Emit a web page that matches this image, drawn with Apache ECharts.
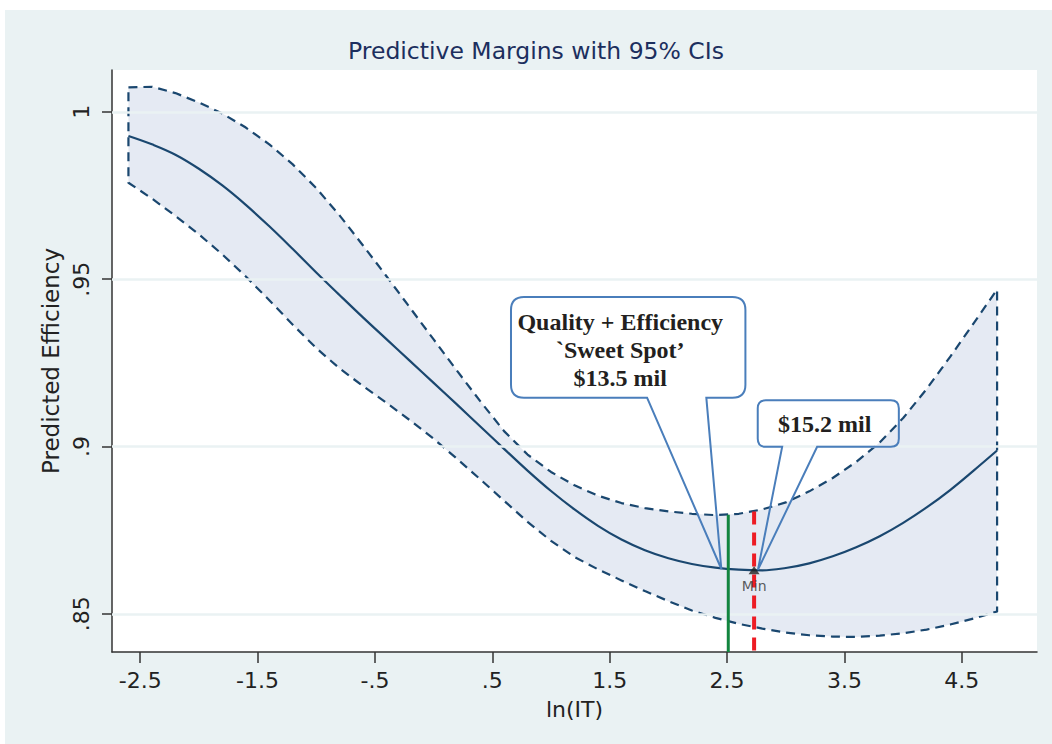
<!DOCTYPE html>
<html><head><meta charset="utf-8">
<script src="https://cdn.jsdelivr.net/npm/echarts@6/dist/echarts.min.js"></script>
<style>html,body{margin:0;padding:0;background:#fff}#chart{width:1052px;height:744px}</style>
</head><body><div id="chart"></div>
<script>
// ---- data ----
const xGrid   = [-2.6,-2.4,-2.2,-2.0,-1.8,-1.6,-1.4,-1.2,-1.0,-0.8,-0.6,-0.4,-0.2,0.0,0.2,0.4,0.6,0.8,1.0,1.2,1.4,1.6,1.8,2.0,2.2,2.4,2.6,2.8,3.0,3.2,3.4,3.6,3.8,4.0,4.2,4.4,4.6,4.8];
const margin  = [0.9928,0.9903,0.9872,0.9830,0.9780,0.9722,0.9658,0.9590,0.9520,0.9452,0.9385,0.9320,0.9255,0.9190,0.9125,0.9059,0.8993,0.8928,0.8867,0.8812,0.8763,0.8722,0.8690,0.8666,0.8649,0.8638,0.8632,0.8630,0.8637,0.8651,0.8672,0.8699,0.8732,0.8772,0.8818,0.8870,0.8928,0.8988];
const ciUpper = [1.0073,1.0075,1.0056,1.0028,0.9995,0.9953,0.9903,0.9843,0.9772,0.9690,0.9600,0.9508,0.9414,0.9320,0.9226,0.9134,0.9046,0.8976,0.8924,0.8884,0.8853,0.8831,0.8816,0.8806,0.8799,0.8795,0.8799,0.8812,0.8833,0.8866,0.8906,0.8954,0.9012,0.9085,0.9172,0.9268,0.9368,0.9469];
const ciLower = [0.9788,0.9741,0.9689,0.9634,0.9574,0.9508,0.9437,0.9364,0.9294,0.9233,0.9180,0.9130,0.9078,0.9023,0.8963,0.8901,0.8838,0.8775,0.8718,0.8670,0.8633,0.8600,0.8568,0.8538,0.8510,0.8488,0.8470,0.8456,0.8444,0.8436,0.8432,0.8431,0.8435,0.8442,0.8453,0.8468,0.8486,0.8507];
const xTickValues = [-2.5,-1.5,-0.5,0.5,1.5,2.5,3.5,4.5];
const xTickLabels = ['-2.5','-1.5','-.5','.5','1.5','2.5','3.5','4.5'];
const yTickValues = [0.85,0.9,0.95,1];
const yTickLabels = ['.85','.9','.95','1'];
const sweetSpotX = 2.51, sweetSpotTop = 0.8796;
const minX = 2.73, minTop = 0.8806;
const minPoint = [2.73, 0.8630];
const calloutTexts = [['Quality + Efficiency','`Sweet Spot\u2019','$13.5 mil'], ['$15.2 mil']];

// ---- layout of annotations (data coordinates) ----
const X_MIN = -2.74, X_MAX = 5.14, Y_MIN = 0.8386, Y_MAX = 1.0125;
const calloutLayout = [
  {box:[0.659, 2.656, 0.9447, 0.9146], base:[1.818, 2.323], tip:[2.451, 0.8634], text:[1.590, 0.9288], r:13},
  {box:[2.761, 3.963, 0.9138, 0.8999], base:[2.969, 3.267], tip:[2.763, 0.8632], text:[3.331, 0.9067], r:8}
];

const pairs = (xs, ys) => xs.map((x, i) => [x, ys[i]]);
const navy = '#1A476F';

function renderBand(params, api) {
  const pts = [];
  for (let i = 0; i < xGrid.length; i++) pts.push(api.coord([xGrid[i], ciUpper[i]]));
  for (let i = xGrid.length - 1; i >= 0; i--) pts.push(api.coord([xGrid[i], ciLower[i]]));
  return {type:'polygon', shape:{points:pts},
    style:{fill:'#E5EAF3', stroke:navy, lineWidth:2.2, lineDash:[9, 6], lineJoin:'round'}};
}

function renderCallout(params, api) {
  const c = calloutLayout[params.dataIndex];
  const tl = api.coord([c.box[0], c.box[2]]);
  const br = api.coord([c.box[1], c.box[3]]);
  const x0 = tl[0], y0 = tl[1], x1 = br[0], y1 = br[1];
  const b1 = api.coord([c.base[0], c.box[3]])[0];
  const b2 = api.coord([c.base[1], c.box[3]])[0];
  const tip = api.coord(c.tip);
  const r = c.r;
  const d = `M${b1} ${y1} L${tip[0]} ${tip[1]} L${b2} ${y1} L${x1-r} ${y1} Q${x1} ${y1} ${x1} ${y1-r} L${x1} ${y0+r} Q${x1} ${y0} ${x1-r} ${y0} L${x0+r} ${y0} Q${x0} ${y0} ${x0} ${y0+r} L${x0} ${y1-r} Q${x0} ${y1} ${x0+r} ${y1} Z`;
  const tp = api.coord(c.text);
  return {type:'group', children:[
    {type:'path', shape:{pathData:d}, style:{fill:'none', stroke:'#4A7EBB', lineWidth:2}},
    {type:'text', x:tp[0], y:tp[1], style:{text: calloutTexts[params.dataIndex].join('\n'),
      font:'bold 24px "Liberation Serif"', fill:'#231F20', textAlign:'center', textVerticalAlign:'middle', lineHeight:28}}
  ]};
}

const chart = echarts.init(document.getElementById('chart'), null, {renderer:'svg'});
chart.setOption({
  animation: false,
  backgroundColor: '#EAF2F3',
  graphic: [
    {type:'rect', shape:{x:0,y:0,width:1052,height:10}, style:{fill:'#fff'}, z:-10},
    {type:'rect', shape:{x:0,y:0,width:5,height:744}, style:{fill:'#fff'}, z:-10}
  ],
  title: {text:'Predictive Margins with 95% CIs', left:536, top:39, textAlign:'center', padding:0,
    textStyle:{fontFamily:'DejaVu Sans', fontSize:23.5, fontWeight:'normal', color:'#1c2f5e'}},
  grid: {left:112, right:15, top:70, bottom:92, show:true, backgroundColor:'#fff', borderWidth:0},
  xAxis: {type:'value', min:X_MIN, max:X_MAX,
    name:'ln(IT)', nameLocation:'middle', nameGap:46,
    nameTextStyle:{fontFamily:'DejaVu Sans', fontSize:22, color:'#222'},
    axisLine:{show:true, onZero:false, lineStyle:{color:'#333', width:1.5}},
    axisTick:{show:true, length:11, customValues:xTickValues, lineStyle:{color:'#333', width:1.5}},
    axisLabel:{customValues:xTickValues, margin:17, fontFamily:'DejaVu Sans', fontSize:22, color:'#222',
      formatter: v => xTickLabels[xTickValues.findIndex(t => Math.abs(t - v) < 1e-6)]},
    splitLine:{show:false}},
  yAxis: {type:'value', min:Y_MIN, max:Y_MAX,
    name:'Predicted Efficiency', nameLocation:'middle', nameGap:47, nameRotate:90,
    nameTextStyle:{fontFamily:'DejaVu Sans', fontSize:23, color:'#222'},
    axisLine:{show:true, onZero:false, lineStyle:{color:'#333', width:1.5}},
    axisTick:{show:true, length:10, customValues:yTickValues, lineStyle:{color:'#333', width:1.5}},
    axisLabel:{customValues:yTickValues, rotate:90, margin:20, fontFamily:'DejaVu Sans', fontSize:22, color:'#222',
      formatter: v => yTickLabels[yTickValues.findIndex(t => Math.abs(t - v) < 1e-6)]},
    splitLine:{show:false}},
  series: [
    {type:'line', name:'gridlines', data:[], silent:true,
      markLine:{silent:true, symbol:['none','none'], label:{show:false},
        lineStyle:{color:'#EAF2F3', width:2.5, type:'solid'},
        data: yTickValues.map(v => ({yAxis:v}))}, z:1},
    {type:'custom', name:'ci', coordinateSystem:'cartesian2d', data:[[xGrid[0], ciUpper[0]]],
      renderItem: renderBand, silent:true, z:2},
    {type:'line', name:'margin', data:pairs(xGrid, margin), smooth:0.4, symbol:'none', lineStyle:{color:navy, width:2.2}, z:4},
    {type:'line', name:'sweetSpot', data:[[sweetSpotX, sweetSpotTop], [sweetSpotX, Y_MIN]], symbol:'none',
      lineStyle:{color:'#12853F', width:3}, z:5},
    {type:'line', name:'minLine', data:[[minX, minTop], [minX, Y_MIN]], symbol:'none',
      lineStyle:{color:'#ED1C24', width:4, type:[13, 8]}, z:5},
    {type:'scatter', name:'min', data:[minPoint], symbol:'triangle', symbolSize:[11, 8],
      itemStyle:{color:'#222'}, z:6,
      label:{show:true, position:'bottom', distance:5, formatter:'Min', fontFamily:'DejaVu Sans', fontSize:14, color:'#333'}},
    {type:'custom', name:'callouts', coordinateSystem:'cartesian2d', data: calloutLayout.map(c => c.tip),
      renderItem: renderCallout, clip:false, z:7, silent:true}
  ]
});
</script></body></html>
